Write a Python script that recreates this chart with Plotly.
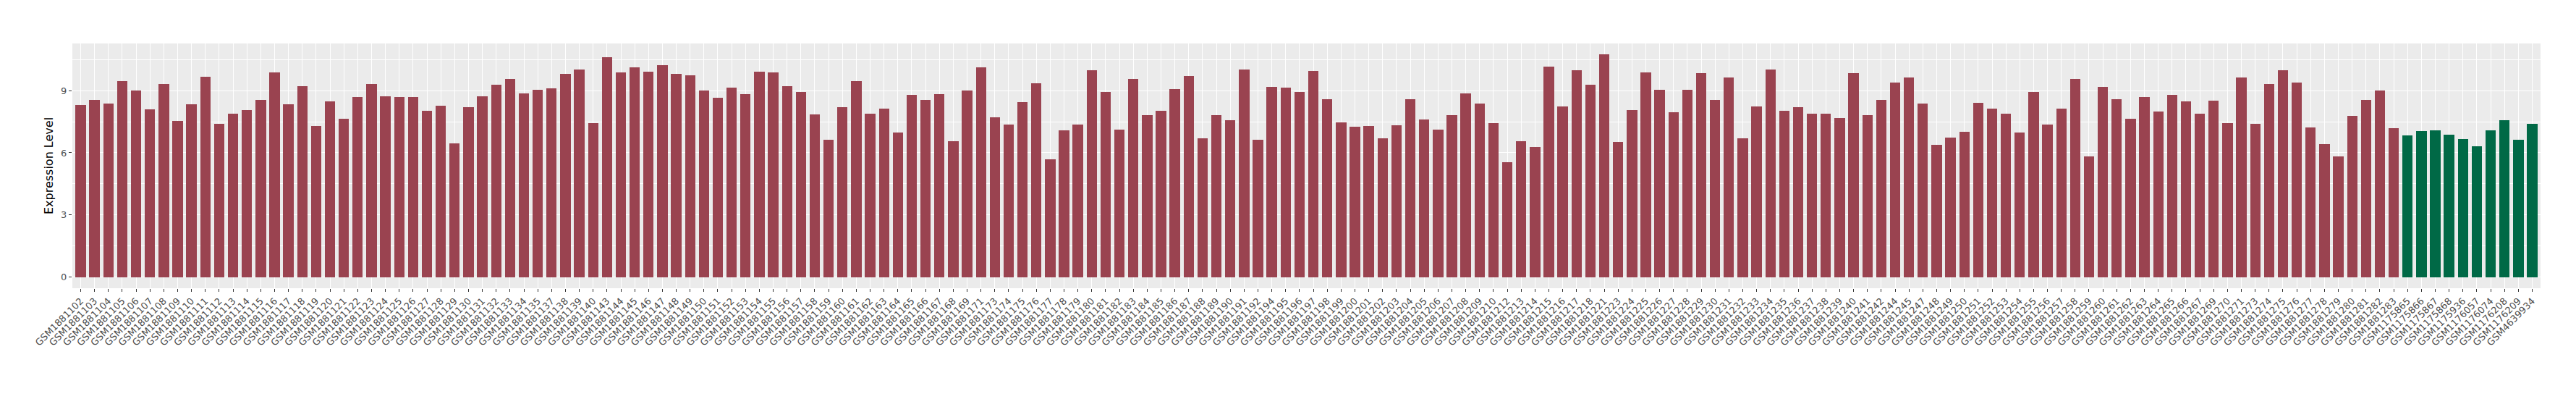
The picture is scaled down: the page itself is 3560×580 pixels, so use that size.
import plotly.graph_objects as go

# ---- data ----
red_ids = [102,103,104,105,106,107,108,109,110,111,112,113,114,115,116,117,118,119,120,121,
           122,123,124,125,126,127,128,129,130,131,132,133,134,135,137,138,139,140,143,144,
           145,146,147,148,149,150,151,152,153,154,155,156,157,158,159,160,161,162,163,164,
           165,166,167,168,169,171,173,174,175,176,177,178,179,180,181,182,183,184,185,186,
           187,188,189,190,191,192,194,195,196,197,198,199,200,201,202,203,204,205,206,207,
           208,209,210,212,213,214,215,216,217,218,221,223,224,225,226,227,228,229,230,231,
           232,233,234,235,236,237,238,239,240,241,242,244,245,247,248,249,250,251,252,253,
           254,255,256,257,258,259,260,261,262,263,264,265,266,267,269,270,271,273,274,275,
           276,277,278,279,280,281,282,283]
red_samples = ["GSM1881" + str(i) for i in red_ids]
red_values = [8.29,8.55,8.38,9.45,8.99,8.11,9.33,7.54,8.33,9.67,7.39,7.89,8.07,8.55,9.89,8.35,9.20,7.29,8.48,7.63,
              8.70,9.33,8.73,8.70,8.68,8.04,8.26,6.47,8.20,8.73,9.27,9.58,8.88,9.05,9.10,9.80,10.02,7.44,10.61,9.89,
              10.11,9.93,10.24,9.80,9.73,8.99,8.64,9.14,8.83,9.93,9.89,9.23,8.92,7.85,6.63,8.20,9.45,7.89,8.14,6.98,
              8.79,8.55,8.83,6.56,9.01,10.11,7.72,7.35,8.45,9.36,5.69,7.10,7.35,9.99,8.92,7.13,9.58,7.83,8.04,9.08,
              9.71,6.69,7.83,7.57,10.02,6.63,9.17,9.14,8.92,9.95,8.57,7.48,7.26,7.29,6.69,7.32,8.57,7.61,7.13,7.83,
              8.88,8.38,7.44,5.56,6.56,6.28,10.15,8.23,9.99,9.30,10.74,6.54,8.07,9.89,9.05,7.94,9.05,9.84,8.55,9.64,
              6.69,8.23,10.02,8.04,8.20,7.89,7.89,7.66,9.84,7.83,8.55,9.39,9.62,8.38,6.38,6.72,7.00,8.42,8.14,7.89,
              6.98,8.92,7.35,8.14,9.55,5.82,9.17,8.57,7.63,8.68,7.98,8.79,8.48,7.89,8.51,7.44,9.64,7.39,9.33,9.99,
              9.39,7.22,6.41,5.82,7.79,8.55,9.01,7.19]
green_samples = ["GSM1175865","GSM1175866","GSM1175867","GSM1175868","GSM1175936",
                 "GSM1176057","GSM1176074","GSM1176208","GSM1176209","GSM4639934"]
green_values = [6.85,7.04,7.10,6.87,6.65,6.32,7.10,7.57,6.63,7.41]
y_ticks = [0, 3, 6, 9]

RED = "#9A4350"
GREEN = "#006946"

samples = red_samples + green_samples
n = len(samples)
ymax = max(red_values + green_values)

fig = go.Figure()
fig.add_trace(go.Bar(x=red_samples, y=red_values, marker_color=RED, marker_line_width=0,
                     width=0.75, showlegend=False))
fig.add_trace(go.Bar(x=green_samples, y=green_values, marker_color=GREEN, marker_line_width=0,
                     width=0.75, showlegend=False))

fig.update_layout(
    width=3560, height=580,
    margin=dict(l=92, r=57, t=52, b=190),
    paper_bgcolor="white", plot_bgcolor="#EBEBEB",
    font=dict(family="DejaVu Sans, sans-serif", color="#4D4D4D"),
    bargap=0,
)
fig.update_xaxes(
    type="category", categoryorder="array", categoryarray=samples,
    range=[-0.6, n - 1 + 0.6],
    tickangle=-45, tickfont=dict(size=13, color="#4D4D4D"),
    showgrid=True, gridcolor="white", gridwidth=1.1,
    ticks="outside", ticklen=4, tickcolor="#333333", tickwidth=1.1,
    showline=False, zeroline=False,
)
fig.update_yaxes(
    range=[-0.05 * ymax, 1.05 * ymax],
    tickvals=y_ticks, ticktext=[str(v) for v in y_ticks],
    tickfont=dict(size=13, color="#4D4D4D"),
    showgrid=True, gridcolor="white", gridwidth=1.1,
    minor=dict(tickvals=[1.5, 4.5, 7.5, 10.5], showgrid=True, gridcolor="white", gridwidth=0.55, ticks=""),
    ticks="outside", ticklen=4, tickcolor="#333333", tickwidth=1.1,
    showline=False, zeroline=False,
    title=dict(text="Expression Level", font=dict(size=16, color="black"), standoff=6),
)

fig.write_html("out.html")
